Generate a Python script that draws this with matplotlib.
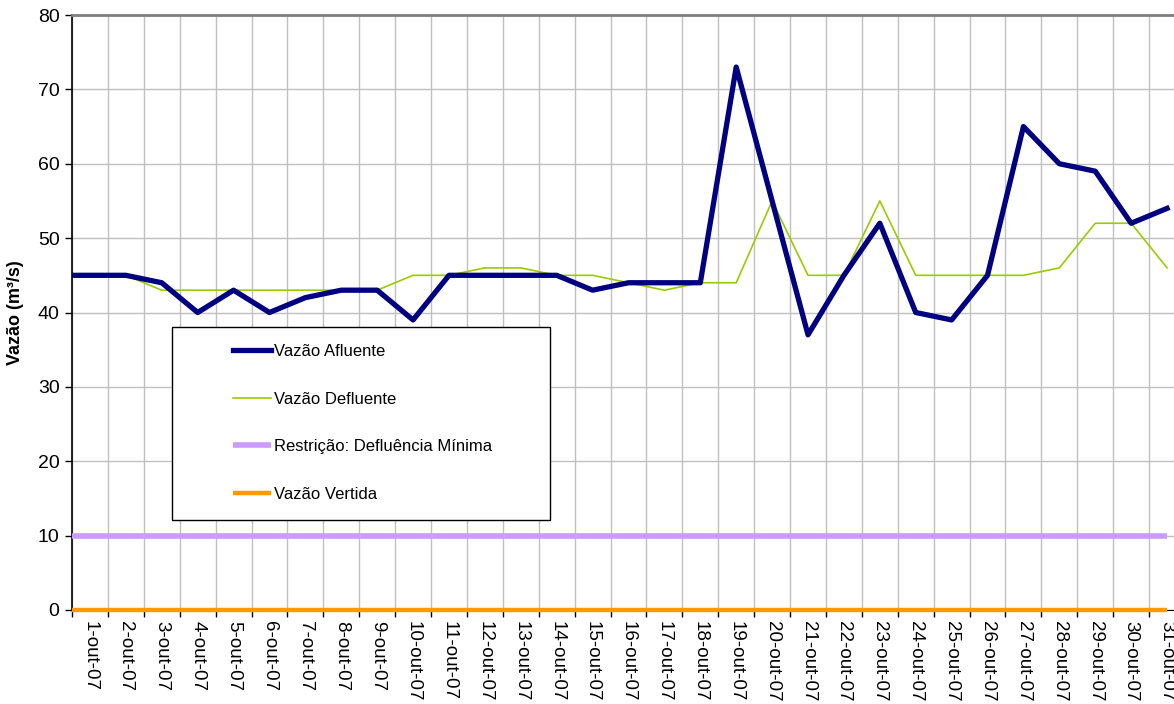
import numpy as np
import matplotlib
matplotlib.use("Agg")
import matplotlib.pyplot as plt
from matplotlib.patches import Rectangle
from matplotlib.ticker import FixedLocator, NullFormatter, FixedFormatter

plt.rcParams['font.family'] = ['Liberation Sans', 'DejaVu Sans']

days = [f"{d}-out-07" for d in range(1, 32)]
afluente = [45, 45, 44, 40, 43, 40, 42, 43, 43, 39, 45, 45, 45, 45, 43, 44,
            44, 44, 73, 55, 37, 45, 52, 40, 39, 45, 65, 60, 59, 52, 54]
defluente = [45, 45, 43, 43, 43, 43, 43, 43, 43, 45, 45, 46, 46, 45, 45, 44,
             43, 44, 44, 55, 45, 45, 55, 45, 45, 45, 45, 46, 52, 52, 46]
restricao = [10] * 31
vertida = [0] * 31

series_names = ["Vazão Afluente", "Vazão Defluente",
                "Restrição: Defluência Mínima", "Vazão Vertida"]
y_ticks = list(range(0, 81, 10))

W, H = 1174, 704
fig = plt.figure(figsize=(W / 100, H / 100), dpi=100)
ax = fig.add_axes([72 / W, 1 - 610 / H, (1185 - 72) / W, (610 - 15) / H])

n = len(days)
idx = np.arange(n)
# lines begin at the left axis edge (category-boundary), as in the source chart
xs = np.r_[-0.5, idx]

def ext(v):
    return np.r_[v[0], v]

ax.plot(xs, ext(vertida), color="#FF9900", lw=3.2, solid_capstyle="butt", zorder=3, clip_on=False)
ax.plot(xs, ext(restricao), color="#CC99FF", lw=4.0, solid_capstyle="butt", zorder=3)
ax.plot(xs, ext(defluente), color="#99CC00", lw=1.2, zorder=4)
ax.plot(xs, ext(afluente), color="#000080", lw=3.8, solid_joinstyle="round", zorder=5)

ax.set_xlim(-0.5, n - 0.5)
ax.set_ylim(0, 80)

ax.xaxis.set_major_locator(FixedLocator(np.arange(n + 1) - 0.5))
ax.xaxis.set_major_formatter(NullFormatter())
ax.xaxis.set_minor_locator(FixedLocator(idx))
ax.xaxis.set_minor_formatter(FixedFormatter(days))
ax.tick_params(axis="x", which="major", direction="out", length=5, width=1, color="black")
ax.tick_params(axis="x", which="minor", length=0, pad=8, labelsize=13.5, labelrotation=-90)
for lbl in ax.xaxis.get_minorticklabels():
    lbl.set_va("top")
    lbl.set_ha("center")

ax.set_yticks(y_ticks)
ax.tick_params(axis="y", direction="out", length=5, width=1, labelsize=14, pad=4)

ax.grid(True, which="major", axis="both", color="#C0C0C0", lw=1.0)
ax.set_axisbelow(True)

ax.spines["top"].set_color("#808080")
ax.spines["top"].set_linewidth(2)
ax.spines["right"].set_visible(False)
ax.spines["left"].set_color("black")
ax.spines["left"].set_linewidth(1.2)
ax.spines["bottom"].set_color("black")

ax.set_ylabel("Vazão (m³/s)", fontsize=13, fontweight="bold", labelpad=10)

# legend box
box = Rectangle((172 / W, 1 - 520 / H), (550 - 172) / W, (520 - 327) / H,
                transform=fig.transFigure, facecolor="white", edgecolor="black",
                lw=1.0, zorder=4)
fig.add_artist(box)

handles = ax.get_lines()[::-1]
leg = fig.legend(handles, series_names, loc="center left",
                 bbox_to_anchor=(233 / W, 1 - 423 / H), frameon=False,
                 fontsize=12, handlelength=2.25, handletextpad=0.2,
                 labelspacing=1.95, borderpad=0, borderaxespad=0)
leg.set_zorder(6)

fig.savefig("out.png", dpi=100)
